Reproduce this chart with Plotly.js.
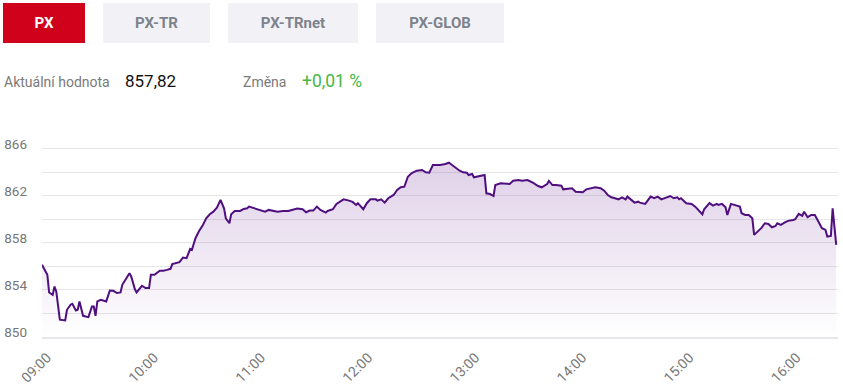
<!DOCTYPE html>
<html>
<head>
<meta charset="utf-8">
<script src="https://cdn.plot.ly/plotly-3.0.1.min.js"></script>
<style>
  html, body { margin:0; padding:0; background:#fff; width:843px; height:389px; overflow:hidden; font-family: Roboto, "Noto Sans", sans-serif; }
  #wrap { position:relative; width:843px; height:389px; }
  .btn { position:absolute; top:3px; height:40px; line-height:40px; text-align:center; font-weight:700; font-size:15px; background:#f2f2f6; color:#7d828c; }
  .btn.active { background:#d0021b; color:#fff; }
  .lbl { position:absolute; top:72px; font-size:14px; color:#7a7a7a; line-height:20px; }
  .val { position:absolute; top:71px; font-size:17px; color:#111; line-height:20px; }
  .chg { position:absolute; top:71px; font-size:17.5px; color:#45b845; line-height:20px; }
  #chart { position:absolute; left:0; top:0; width:843px; height:389px; }
</style>
</head>
<body>
<div id="wrap">
  <div id="chart"></div>
  <div id="tabs"></div>
  <div class="lbl" style="left:4px">Aktuální hodnota</div>
  <div class="val" style="left:125px">857,82</div>
  <div class="lbl" style="left:243px">Změna</div>
  <div class="chg" style="left:302px">+0,01 %</div>
</div>
<script>
// ---- tabs ----
const tabNames = ["PX", "PX-TR", "PX-TRnet", "PX-GLOB"];
const tabLeft  = [3, 103, 228, 376];
const tabWidth = [82, 107, 130, 128];

// ---- series ----
const times = [
"09:00","09:03","09:04","09:06","09:07","09:08","09:10","09:13","09:14","09:16",
"09:17","09:19","09:20","09:21","09:23","09:26","09:28","09:29","09:30","09:31",
"09:33","09:36","09:38","09:40","09:42","09:44","09:45","09:46","09:49","09:50",
"09:52","09:53","09:56","09:58","10:00","10:01","10:03","10:06","10:08","10:10",
"10:12","10:13","10:15","10:17","10:19","10:21","10:23","10:24","10:26","10:28",
"10:30","10:32","10:34","10:36","10:38","10:40","10:42","10:43","10:45","10:46",
"10:48","10:51","10:53","10:55","10:56","10:58","11:01","11:03","11:05","11:07",
"11:10","11:12","11:15","11:18","11:20","11:23","11:26","11:28","11:30","11:32",
"11:34","11:36","11:39","11:40","11:43","11:45","11:47","11:49","11:52","11:54",
"11:56","11:57","12:00","12:02","12:04","12:07","12:08","12:10","12:12","12:14",
"12:17","12:19","12:21","12:23","12:25","12:27","12:30","12:33","12:35","12:37",
"12:39","12:43","12:46","12:48","12:49","12:51","12:54","12:56","12:58","12:59",
"13:01","13:02","13:04","13:08","13:09","13:11","13:13","13:14","13:17","13:19",
"13:22","13:24","13:26","13:27","13:29","13:31","13:32","13:35","13:38","13:40",
"13:43","13:44","13:46","13:48","13:51","13:52","13:55","13:57","13:59","14:01",
"14:03","14:05","14:08","14:10","14:13","14:15","14:17","14:19","14:21","14:23",
"14:25","14:27","14:28","14:29","14:32","14:34","14:35","14:38","14:39","14:41",
"14:43","14:45","14:47","14:50","14:52","14:54","14:56","14:57","14:58","15:01",
"15:04","15:06","15:08","15:10","15:11","15:14","15:16","15:18","15:19","15:21",
"15:23","15:24","15:26","15:28","15:31","15:32","15:34","15:36","15:38","15:39",
"15:41","15:43","15:45","15:47","15:49","15:51","15:52","15:54","15:56","15:58",
"16:01","16:02","16:04","16:06","16:07","16:09","16:11","16:13","16:15","16:17",
"16:19","16:20","16:22","16:23","16:24","16:25"
];
const values = [
856.13,855.28,853.78,853.58,854.29,853.86,851.47,851.41,852.31,852.74,
852.82,852.25,852.31,853.02,851.80,851.69,852.60,852.60,851.80,853.02,
853.16,853.02,853.95,853.92,853.73,853.78,854.43,854.71,855.42,855.14,
854.07,853.78,854.35,854.15,854.15,855.28,855.28,855.62,855.62,855.70,
855.79,856.19,856.27,856.36,856.75,856.69,857.48,857.40,858.39,859.00,
859.46,860.08,860.42,860.64,860.98,861.64,860.93,860.08,859.66,860.42,
860.70,860.70,860.87,860.93,861.07,860.98,860.85,860.79,860.64,860.79,
860.73,860.64,860.70,860.70,860.79,860.90,860.85,860.59,860.73,860.73,
861.07,860.79,860.56,860.70,860.85,861.30,861.49,861.69,861.58,861.47,
861.21,861.36,860.85,861.36,861.69,861.69,861.58,861.69,861.41,861.78,
862.06,862.48,862.71,862.76,863.61,863.90,864.12,864.18,863.98,863.95,
864.60,864.60,864.69,864.80,864.69,864.46,864.12,863.98,863.95,863.75,
863.84,863.56,863.61,863.75,862.20,862.14,861.97,862.90,863.05,863.05,
862.99,863.27,863.33,863.33,863.27,863.27,863.33,863.10,862.82,862.71,
862.99,863.25,862.90,862.90,862.85,862.54,862.63,862.63,862.34,862.29,
862.29,862.54,862.63,862.71,862.63,862.42,862.06,861.86,861.78,861.69,
861.86,861.69,861.92,861.78,861.41,861.49,861.41,861.30,861.49,861.92,
861.78,861.92,861.69,861.86,861.97,861.78,861.86,861.69,861.78,861.36,
861.30,861.07,860.73,860.42,860.85,861.36,861.15,861.30,861.21,861.30,
861.02,860.36,861.30,861.21,861.07,860.51,860.36,860.36,860.08,858.67,
858.95,859.24,859.66,859.60,859.32,859.43,859.66,859.52,859.71,859.86,
859.94,860.00,860.45,860.28,860.64,860.17,860.36,860.36,859.80,859.24,
859.09,858.53,858.58,860.93,859.37,857.82
];
const yLabels = [850, 854, 858, 862, 866];
const hourTicks = ["09:00","10:00","11:00","12:00","13:00","14:00","15:00","16:00"];

const day = "2024-01-15 ";
const tabs = document.getElementById("tabs");
tabNames.forEach((n, i) => {
  const d = document.createElement("div");
  d.className = "btn" + (i === 0 ? " active" : "");
  d.style.left = tabLeft[i] + "px";
  d.style.width = tabWidth[i] + "px";
  d.textContent = n;
  tabs.appendChild(d);
});

const trace = {
  type: "scatter",
  mode: "lines",
  x: times.map(t => day + t),
  y: values,
  line: { color: "#4f0f7f", width: 2 },
  fill: "tozeroy",
  fillgradient: {
    type: "vertical",
    start: 850, stop: 865,
    colorscale: [[0, "rgba(110,40,150,0.0)"], [1, "rgba(110,40,150,0.22)"]]
  },
  hoverinfo: "skip"
};

const layout = {
  width: 843, height: 389,
  margin: { l: 42, r: 5, t: 125, b: 52 },
  paper_bgcolor: "rgba(0,0,0,0)",
  plot_bgcolor: "#fff",
  showlegend: false,
  font: { family: "Roboto, 'Noto Sans', sans-serif", color: "#777" },
  xaxis: {
    type: "date",
    range: [day + "09:00", day + "16:26"],
    tickvals: hourTicks.map(t => day + t),
    ticktext: hourTicks,
    tickangle: -45,
    ticklabelshift: 5,
    ticklabelstandoff: 5,
    showgrid: false,
    zeroline: false,
    showline: true,
    linecolor: "#e8e8ec",
    linewidth: 2,
    ticks: "",
    tickfont: { size: 14, color: "#777" },
    fixedrange: true
  },
  yaxis: {
    range: [850, 868],
    tickvals: yLabels,
    ticktext: yLabels.map(String),
    ticklabelposition: "outside top",
    ticklabelshift: 5,
    ticklabelstandoff: 14,
    showgrid: true,
    gridcolor: "#e6e6e6",
    gridwidth: 1,
    minor: { dtick: 2, tick0: 850, showgrid: true, gridcolor: "#e6e6e6", gridwidth: 1, ticks: "" },
    zeroline: false,
    showline: false,
    ticks: "",
    tickfont: { size: 13.5, color: "#777" },
    fixedrange: true
  }
};

Plotly.newPlot("chart", [trace], layout, { staticPlot: true, displayModeBar: false });
</script>
</body>
</html>
